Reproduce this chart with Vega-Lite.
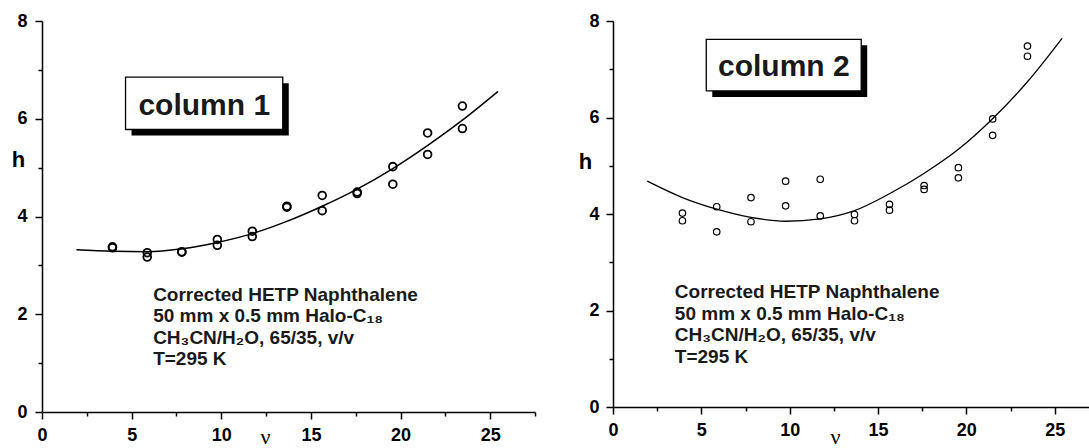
{
  "$schema": "https://vega.github.io/schema/vega-lite/v6.json",
  "background": "white",
  "padding": {"left": 11, "top": 12, "right": 0, "bottom": 0},
  "spacing": 42,
  "config": {
    "view": {"stroke": null},
    "font": "Liberation Sans",
    "axis": {
      "grid": false,
      "domainColor": "black",
      "domainWidth": 1.5,
      "tickColor": "black",
      "tickWidth": 1.5,
      "labelColor": "black",
      "labelFont": "Liberation Sans",
      "labelFontSize": 18,
      "labelFontWeight": "bold",
      "labelFlush": false,
      "labelOverlap": false,
      "titleColor": "black"
    },
    "text": {"font": "Liberation Sans", "fontWeight": "bold", "color": "black"}
  },
  "datasets": {
    "pts1": [
      {"v": 3.93, "h": 3.36}, {"v": 3.93, "h": 3.38},
      {"v": 5.87, "h": 3.26}, {"v": 5.87, "h": 3.17},
      {"v": 7.8, "h": 3.27}, {"v": 7.8, "h": 3.28},
      {"v": 9.78, "h": 3.53}, {"v": 9.78, "h": 3.41},
      {"v": 11.73, "h": 3.7}, {"v": 11.73, "h": 3.59},
      {"v": 13.66, "h": 4.19}, {"v": 13.66, "h": 4.21},
      {"v": 15.63, "h": 4.43}, {"v": 15.63, "h": 4.12},
      {"v": 17.58, "h": 4.47}, {"v": 17.58, "h": 4.5},
      {"v": 19.57, "h": 5.02}, {"v": 19.57, "h": 4.66},
      {"v": 21.51, "h": 5.71}, {"v": 21.51, "h": 5.27},
      {"v": 23.45, "h": 6.26}, {"v": 23.45, "h": 5.8}
    ],
    "fit1": [
      {"v": 1.92, "h": 3.32}, {"v": 3.93, "h": 3.29}, {"v": 5.87, "h": 3.28},
      {"v": 7.8, "h": 3.34}, {"v": 9.78, "h": 3.47}, {"v": 11.73, "h": 3.65},
      {"v": 13.65, "h": 3.9}, {"v": 15.63, "h": 4.21}, {"v": 17.58, "h": 4.56},
      {"v": 19.57, "h": 4.98}, {"v": 21.5, "h": 5.45}, {"v": 23.45, "h": 5.97},
      {"v": 25.44, "h": 6.56}
    ],
    "pts2": [
      {"v": 3.93, "h": 4.02}, {"v": 3.93, "h": 3.86},
      {"v": 5.87, "h": 4.15}, {"v": 5.87, "h": 3.63},
      {"v": 7.81, "h": 4.34}, {"v": 7.81, "h": 3.84},
      {"v": 9.77, "h": 4.68}, {"v": 9.77, "h": 4.17},
      {"v": 11.73, "h": 4.72}, {"v": 11.73, "h": 3.96},
      {"v": 13.67, "h": 3.99}, {"v": 13.67, "h": 3.86},
      {"v": 15.65, "h": 4.2}, {"v": 15.65, "h": 4.08},
      {"v": 17.61, "h": 4.59}, {"v": 17.61, "h": 4.51},
      {"v": 19.55, "h": 4.96}, {"v": 19.55, "h": 4.75},
      {"v": 21.49, "h": 5.97}, {"v": 21.49, "h": 5.63},
      {"v": 23.46, "h": 7.48}, {"v": 23.46, "h": 7.27}
    ],
    "fit2": [
      {"v": 1.94, "h": 4.68}, {"v": 3.93, "h": 4.34}, {"v": 5.87, "h": 4.1},
      {"v": 7.81, "h": 3.93}, {"v": 9.77, "h": 3.85}, {"v": 11.73, "h": 3.9},
      {"v": 13.67, "h": 4.07}, {"v": 15.65, "h": 4.42}, {"v": 17.6, "h": 4.84},
      {"v": 19.55, "h": 5.34}, {"v": 21.5, "h": 5.98}, {"v": 23.46, "h": 6.74},
      {"v": 25.42, "h": 7.64}
    ],
    "box1": [{"x1": 4.66, "x2": 13.43, "y1": 5.78, "y2": 6.85, "cx": 9.05, "cy": 6.07, "label": "column 1"}],
    "box2": [{"x1": 5.28, "x2": 14.05, "y1": 6.55, "y2": 7.62, "cx": 9.67, "cy": 6.86, "label": "column 2"}],
    "note1": [{"x": 6.2, "y": 2.28, "t": "Corrected HETP Naphthalene\n50 mm x 0.5 mm Halo-C₁₈\nCH₃CN/H₂O, 65/35, v/v\nT=295 K"}],
    "note2": [{"x": 3.5, "y": 2.25, "t": "Corrected HETP Naphthalene\n50 mm x 0.5 mm Halo-C₁₈\nCH₃CN/H₂O, 65/35, v/v\nT=295 K"}]
  },
  "hconcat": [
    {
      "width": 493,
      "height": 391,
      "resolve": {"axis": {"x": "independent", "y": "independent"}},
      "layer": [
        {
          "data": {"name": "box1"},
          "mark": {"type": "rect", "fill": "black", "xOffset": 6, "x2Offset": 6, "yOffset": 6, "y2Offset": 6},
          "encoding": {
            "x": {"field": "x1", "type": "quantitative", "axis": null},
            "x2": {"field": "x2"},
            "y": {"field": "y1", "type": "quantitative", "axis": null},
            "y2": {"field": "y2"}
          }
        },
        {
          "data": {"name": "box1"},
          "mark": {"type": "rect", "fill": "white", "stroke": "black", "strokeWidth": 1.3},
          "encoding": {
            "x": {"field": "x1", "type": "quantitative", "axis": null},
            "x2": {"field": "x2"},
            "y": {"field": "y1", "type": "quantitative", "axis": null},
            "y2": {"field": "y2"}
          }
        },
        {
          "data": {"name": "box1"},
          "mark": {"type": "text", "fontSize": 30, "align": "center", "baseline": "alphabetic", "color": "#1a1a1a"},
          "encoding": {
            "x": {"field": "cx", "type": "quantitative", "axis": null},
            "y": {"field": "cy", "type": "quantitative", "axis": null},
            "text": {"field": "label"}
          }
        },
        {
          "data": {"name": "note1"},
          "mark": {"type": "text", "fontSize": 19, "align": "left", "baseline": "alphabetic", "lineBreak": "\n", "lineHeight": 21.5, "color": "#1a1a1a"},
          "encoding": {
            "x": {"field": "x", "type": "quantitative", "axis": null},
            "y": {"field": "y", "type": "quantitative", "axis": null},
            "text": {"field": "t"}
          }
        },
        {
          "data": {"name": "fit1"},
          "mark": {"type": "line", "color": "black", "strokeWidth": 1.5, "interpolate": "monotone"},
          "encoding": {
            "x": {"field": "v", "type": "quantitative", "scale": {"domain": [0, 27.5], "nice": false, "zero": false},
                  "axis": {"orient": "bottom", "values": [2.5, 7.5, 12.5, 17.5, 22.5, 27.5], "labels": false, "domain": false, "tickSize": 4, "title": null}},
            "y": {"field": "h", "type": "quantitative", "scale": {"domain": [0, 8], "nice": false, "zero": false},
                  "axis": {"orient": "left", "values": [1, 3, 5, 7], "labels": false, "domain": false, "tickSize": 4, "title": null}}
          }
        },
        {
          "data": {"name": "pts1"},
          "mark": {"type": "point", "shape": "circle", "filled": false, "stroke": "black", "strokeWidth": 1.8, "size": 60, "opacity": 1},
          "encoding": {
            "x": {"field": "v", "type": "quantitative", "scale": {"domain": [0, 27.5], "nice": false, "zero": false},
                  "axis": {"orient": "bottom", "values": [0, 5, 10, 15, 20, 25], "tickSize": 7, "labelPadding": 7,
                           "title": "ν", "titleFont": "Liberation Serif", "titleFontSize": 22, "titleFontWeight": "normal",
                           "titleX": 223, "titleY": 31, "titleAlign": "center", "titleBaseline": "alphabetic"}},
            "y": {"field": "h", "type": "quantitative", "scale": {"domain": [0, 8], "nice": false, "zero": false},
                  "axis": {"orient": "left", "values": [0, 2, 4, 6, 8], "tickSize": 7, "labelPadding": 8,
                           "title": "h", "titleFont": "Liberation Sans", "titleFontSize": 22, "titleFontWeight": "bold",
                           "titleAngle": 0, "titleX": -24, "titleY": 138, "titleAlign": "center", "titleBaseline": "middle"}}
          }
        }
      ]
    },
    {
      "width": 477,
      "height": 386,
      "resolve": {"axis": {"x": "independent", "y": "independent"}},
      "layer": [
        {
          "data": {"name": "box2"},
          "mark": {"type": "rect", "fill": "black", "xOffset": 6, "x2Offset": 6, "yOffset": 6, "y2Offset": 6},
          "encoding": {
            "x": {"field": "x1", "type": "quantitative", "axis": null},
            "x2": {"field": "x2"},
            "y": {"field": "y1", "type": "quantitative", "axis": null},
            "y2": {"field": "y2"}
          }
        },
        {
          "data": {"name": "box2"},
          "mark": {"type": "rect", "fill": "white", "stroke": "black", "strokeWidth": 1.3},
          "encoding": {
            "x": {"field": "x1", "type": "quantitative", "axis": null},
            "x2": {"field": "x2"},
            "y": {"field": "y1", "type": "quantitative", "axis": null},
            "y2": {"field": "y2"}
          }
        },
        {
          "data": {"name": "box2"},
          "mark": {"type": "text", "fontSize": 30, "align": "center", "baseline": "alphabetic", "color": "#1a1a1a"},
          "encoding": {
            "x": {"field": "cx", "type": "quantitative", "axis": null},
            "y": {"field": "cy", "type": "quantitative", "axis": null},
            "text": {"field": "label"}
          }
        },
        {
          "data": {"name": "note2"},
          "mark": {"type": "text", "fontSize": 19, "align": "left", "baseline": "alphabetic", "lineBreak": "\n", "lineHeight": 21.5, "color": "#1a1a1a"},
          "encoding": {
            "x": {"field": "x", "type": "quantitative", "axis": null},
            "y": {"field": "y", "type": "quantitative", "axis": null},
            "text": {"field": "t"}
          }
        },
        {
          "data": {"name": "fit2"},
          "mark": {"type": "line", "color": "black", "strokeWidth": 1.3, "interpolate": "monotone"},
          "encoding": {
            "x": {"field": "v", "type": "quantitative", "scale": {"domain": [0, 27], "nice": false, "zero": false},
                  "axis": {"orient": "bottom", "values": [2.5, 7.5, 12.5, 17.5, 22.5], "labels": false, "domain": false, "tickSize": 4, "title": null}},
            "y": {"field": "h", "type": "quantitative", "scale": {"domain": [0, 8], "nice": false, "zero": false},
                  "axis": {"orient": "left", "values": [1, 3, 5, 7], "labels": false, "domain": false, "tickSize": 4, "title": null}}
          }
        },
        {
          "data": {"name": "pts2"},
          "mark": {"type": "point", "shape": "circle", "filled": false, "stroke": "black", "strokeWidth": 1.2, "size": 42, "opacity": 1},
          "encoding": {
            "x": {"field": "v", "type": "quantitative", "scale": {"domain": [0, 27], "nice": false, "zero": false},
                  "axis": {"orient": "bottom", "values": [0, 5, 10, 15, 20, 25], "tickSize": 7, "labelPadding": 7,
                           "title": "ν", "titleFont": "Liberation Serif", "titleFontSize": 22, "titleFontWeight": "normal",
                           "titleX": 222, "titleY": 36, "titleAlign": "center", "titleBaseline": "alphabetic"}},
            "y": {"field": "h", "type": "quantitative", "scale": {"domain": [0, 8], "nice": false, "zero": false},
                  "axis": {"orient": "left", "values": [0, 2, 4, 6, 8], "tickSize": 7, "labelPadding": 7,
                           "title": "h", "titleFont": "Liberation Sans", "titleFontSize": 22, "titleFontWeight": "bold",
                           "titleAngle": 0, "titleX": -28, "titleY": 140, "titleAlign": "center", "titleBaseline": "middle"}}
          }
        }
      ]
    }
  ]
}
